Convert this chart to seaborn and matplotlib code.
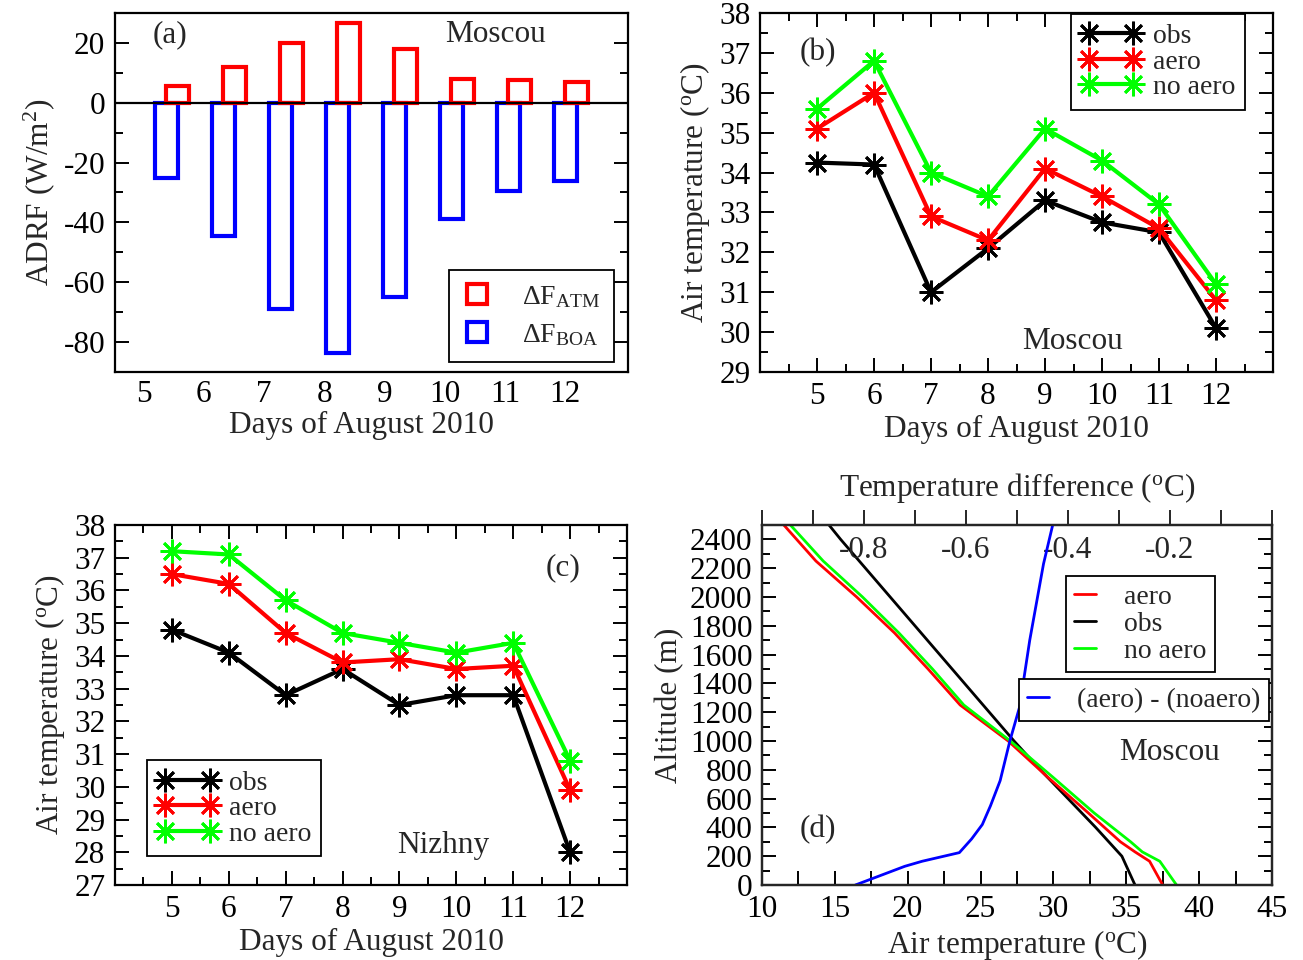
import numpy as np
import pandas as pd
import matplotlib
matplotlib.use("Agg")
import matplotlib.pyplot as plt
from matplotlib.lines import Line2D
from matplotlib.ticker import MultipleLocator
import seaborn as sns

# (a) aerosol direct radiative forcing, Moscou
days = [5, 6, 7, 8, 9, 10, 11, 12]
adrf_atm = [5.5, 12.0, 20.0, 26.5, 17.8, 7.8, 7.5, 6.8]
adrf_boa = [-25.0, -44.5, -69.0, -83.5, -65.0, -39.0, -29.5, -26.0]

# (b) air temperature, Moscou
moscou_obs = [34.25, 34.2, 31.0, 32.1, 33.3, 32.75, 32.5, 30.1]
moscou_aero = [35.1, 36.0, 32.9, 32.3, 34.1, 33.4, 32.6, 30.8]
moscou_noaero = [35.6, 36.8, 34.0, 33.4, 35.1, 34.3, 33.2, 31.2]

# (c) air temperature, Nizhny
nizhny_obs = [34.8, 34.1, 32.8, 33.6, 32.5, 32.8, 32.8, 28.0]
nizhny_aero = [36.5, 36.2, 34.7, 33.8, 33.9, 33.6, 33.7, 29.9]
nizhny_noaero = [37.2, 37.1, 35.7, 34.7, 34.4, 34.1, 34.4, 30.8]

# (d) vertical profiles, Moscou
alt_obs = [0, 200, 400, 600, 800, 1000, 1200, 1400, 1600, 1800, 2000, 2200, 2400, 2500]
temp_obs = [35.6, 34.7, 32.9, 31.0, 29.1, 27.3, 25.6, 23.9, 22.2, 20.5, 18.8, 17.1, 15.4, 14.6]
alt_model = [0, 165, 230, 300, 500, 750, 1000, 1250, 1500, 1750, 2000, 2250, 2500]
temp_aero = [37.5, 36.6, 35.6, 34.6, 32.4, 29.6, 26.9, 23.6, 21.4, 19.1, 16.5, 13.7, 11.5]
temp_noaero = [38.45, 37.3, 36.1, 35.3, 32.8, 29.95, 27.05, 23.85, 21.7, 19.4, 16.9, 14.2, 11.95]
alt_diff = [0, 130, 165, 225, 320, 420, 550, 725, 1000, 1235, 1700, 2230, 2500]
temp_diff = [-0.817, -0.72, -0.686, -0.613, -0.589, -0.568, -0.552, -0.533, -0.514, -0.495, -0.475, -0.448, -0.43]

RED, GREEN, BLUE = "#ff0000", "#00ff00", "#0000ff"
FS = 22.5
LFS = 20

sns.set_style("ticks")
plt.rcParams["font.family"] = ["Liberation Serif", "DejaVu Serif"]
plt.rcParams.update({
    "mathtext.fontset": "custom",
    "mathtext.rm": "Liberation Serif",
    "mathtext.it": "Liberation Serif:italic",
    "axes.unicode_minus": False,
    "font.size": FS,
    "axes.labelsize": FS,
    "legend.fontsize": LFS,
})

deg = r"($^{\rm o}$C)"


def frame(ax, top=True):
    for s in ax.spines.values():
        s.set_linewidth(1.6)
        s.set_color("black")
    ax.tick_params(which="both", direction="in", width=1.4, top=top, right=True,
                   labelsize=FS, colors="black")
    ax.tick_params(which="major", length=10)
    ax.tick_params(which="minor", length=6)
    ax.tick_params(axis="y", pad=7)
    ax.tick_params(axis="x", pad=7)


def boxed_legend(ax, **kw):
    leg = ax.legend(frameon=True, fancybox=False, framealpha=1, borderaxespad=0, **kw)
    leg.get_frame().set_edgecolor("black")
    leg.get_frame().set_linewidth(1.3)
    return leg


fig = plt.figure(figsize=(13.03, 9.6), dpi=100)
ax_a = fig.add_axes([0.0883, 0.6125, 0.3937, 0.3740])
ax_b = fig.add_axes([0.5833, 0.6125, 0.3937, 0.3740])
ax_c = fig.add_axes([0.0883, 0.0781, 0.3929, 0.3750])
ax_d = fig.add_axes([0.5848, 0.0781, 0.3914, 0.3750])

# ---- (a) bars
forcing = pd.DataFrame({
    "day": days * 2,
    "adrf": adrf_boa + adrf_atm,
    "term": ["BOA"] * len(days) + ["ATM"] * len(days),
})
sns.barplot(data=forcing, x="day", y="adrf", hue="term", hue_order=["BOA", "ATM"],
            palette={"BOA": BLUE, "ATM": RED}, fill=False, width=0.38, gap=-1.1,
            linewidth=3, errorbar=None, legend=False, ax=ax_a)
ax_a.axhline(0, color="black", lw=1.6, zorder=5)
frame(ax_a)
ax_a.set_xlim(-1, 8)
ax_a.set_ylim(-90, 30)
ax_a.set_xticks(np.linspace(-0.5, 6.9, len(days)), [str(d) for d in days])
ax_a.tick_params(axis="x", length=0, top=False, bottom=False, pad=6)
ax_a.yaxis.set_major_locator(MultipleLocator(20))
ax_a.yaxis.set_minor_locator(MultipleLocator(10))
ax_a.set_xlabel("Days of August 2010", labelpad=1)
ax_a.xaxis.label.set_x(0.481)
ax_a.set_ylabel(r"ADRF (W/m$^2$)", labelpad=5)
ax_a.text(0.107, 0.939, "(a)", transform=ax_a.transAxes, ha="center", va="center")
ax_a.text(0.741, 0.939, "Moscou", transform=ax_a.transAxes, ha="center", va="center")
sq = dict(ls="none", marker="s", ms=15, mfc="none", mew=3)
boxed_legend(ax_a,
             handles=[Line2D([], [], mec=RED, **sq), Line2D([], [], mec=BLUE, **sq)],
             labels=[r"$\Delta\mathrm{F}_{\mathrm{ATM}}$", r"$\Delta\mathrm{F}_{\mathrm{BOA}}$"],
             loc="lower right", bbox_to_anchor=(0.972, 0.028), handlelength=1.0,
             handletextpad=1.1, labelspacing=0.45, borderpad=0.5)


# ---- (b), (c) temperature series
def temp_panel(ax, obs, aero, noaero, ylim):
    for vals, col, lab in [(obs, "black", "obs"), (aero, RED, "aero"), (noaero, GREEN, "no aero")]:
        sns.lineplot(x=days, y=vals, color=col, lw=3, marker=(8, 2, 0), markersize=17,
                     markeredgewidth=2, markeredgecolor=col, label=lab, ax=ax)
    frame(ax)
    ax.set_xlim(4, 13)
    ax.set_ylim(*ylim)
    ax.set_xticks(days)
    ax.xaxis.set_minor_locator(MultipleLocator(0.5))
    ax.yaxis.set_major_locator(MultipleLocator(1))
    ax.yaxis.set_minor_locator(MultipleLocator(0.5))
    ax.set_xlabel("Days of August 2010", labelpad=3)
    ax.set_ylabel("Air temperature " + deg, labelpad=5)


temp_panel(ax_b, moscou_obs, moscou_aero, moscou_noaero, (29, 38))
boxed_legend(ax_b, loc="upper right", bbox_to_anchor=(0.945, 0.997), numpoints=2,
             handlelength=2.2, handletextpad=0.4, labelspacing=0.0, borderpad=0.35)
ax_b.text(0.113, 0.889, "(b)", transform=ax_b.transAxes, ha="center", va="center")
ax_b.text(0.610, 0.084, "Moscou", transform=ax_b.transAxes, ha="center", va="center")

temp_panel(ax_c, nizhny_obs, nizhny_aero, nizhny_noaero, (27, 38))
boxed_legend(ax_c, loc="lower left", bbox_to_anchor=(0.0625, 0.08), numpoints=2,
             handlelength=2.2, handletextpad=0.4, labelspacing=0.0, borderpad=0.35)
ax_c.text(0.875, 0.881, "(c)", transform=ax_c.transAxes, ha="center", va="center")
ax_c.text(0.641, 0.111, "Nizhny", transform=ax_c.transAxes, ha="center", va="center")

# ---- (d) profiles
sns.lineplot(x=temp_obs, y=alt_obs, sort=False, estimator=None, color="black", lw=2,
             label="obs", ax=ax_d)
sns.lineplot(x=temp_aero, y=alt_model, sort=False, estimator=None, color=RED, lw=2,
             label="aero", ax=ax_d)
sns.lineplot(x=temp_noaero, y=alt_model, sort=False, estimator=None, color=GREEN, lw=2,
             label="no aero", ax=ax_d)
frame(ax_d, top=False)
ax_d.set_xlim(10, 45)
ax_d.set_ylim(0, 2500)
ax_d.xaxis.set_major_locator(MultipleLocator(5))
ax_d.xaxis.set_minor_locator(MultipleLocator(2.5))
ax_d.yaxis.set_major_locator(MultipleLocator(200))
ax_d.yaxis.set_minor_locator(MultipleLocator(100))
ax_d.tick_params(axis="x", which="both", length=10)
ax_d.set_xlabel("Air temperature " + deg, labelpad=3)
ax_d.set_ylabel("Altitude (m)", labelpad=4)
h, l = ax_d.get_legend_handles_labels()
order = [l.index("aero"), l.index("obs"), l.index("no aero")]
boxed_legend(ax_d, handles=[h[i] for i in order], labels=[l[i] for i in order],
             loc="upper right", bbox_to_anchor=(0.888, 0.858), handlelength=0.8,
             handletextpad=1.0, labelspacing=0.05, borderpad=0.3)
ax_d.text(0.110, 0.153, "(d)", transform=ax_d.transAxes, ha="center", va="center")
ax_d.text(0.800, 0.369, "Moscou", transform=ax_d.transAxes, ha="center", va="center")

ax_t = ax_d.twiny()
sns.lineplot(x=temp_diff, y=alt_diff, sort=False, estimator=None, color=BLUE, lw=2,
             label="(aero) - (noaero)", ax=ax_t)
ax_t.set_xlim(-1, 0)
ax_t.set_ylim(0, 2500)
for s in ax_t.spines.values():
    s.set_linewidth(1.6)
ax_t.set_xticks([-0.8, -0.6, -0.4, -0.2])
ax_t.xaxis.set_minor_locator(MultipleLocator(0.1))
ax_t.tick_params(axis="x", which="both", direction="out", length=11, width=1.4,
                 top=True, bottom=False, labelsize=FS, pad=-40)
ax_t.set_xlabel("Temperature difference " + deg, labelpad=10)
ax_t.set_ylabel("")
boxed_legend(ax_t, loc="upper right", bbox_to_anchor=(0.994, 0.572), handlelength=0.8,
             handletextpad=1.0, borderpad=0.3)

fig.savefig("out.png", dpi=100)
